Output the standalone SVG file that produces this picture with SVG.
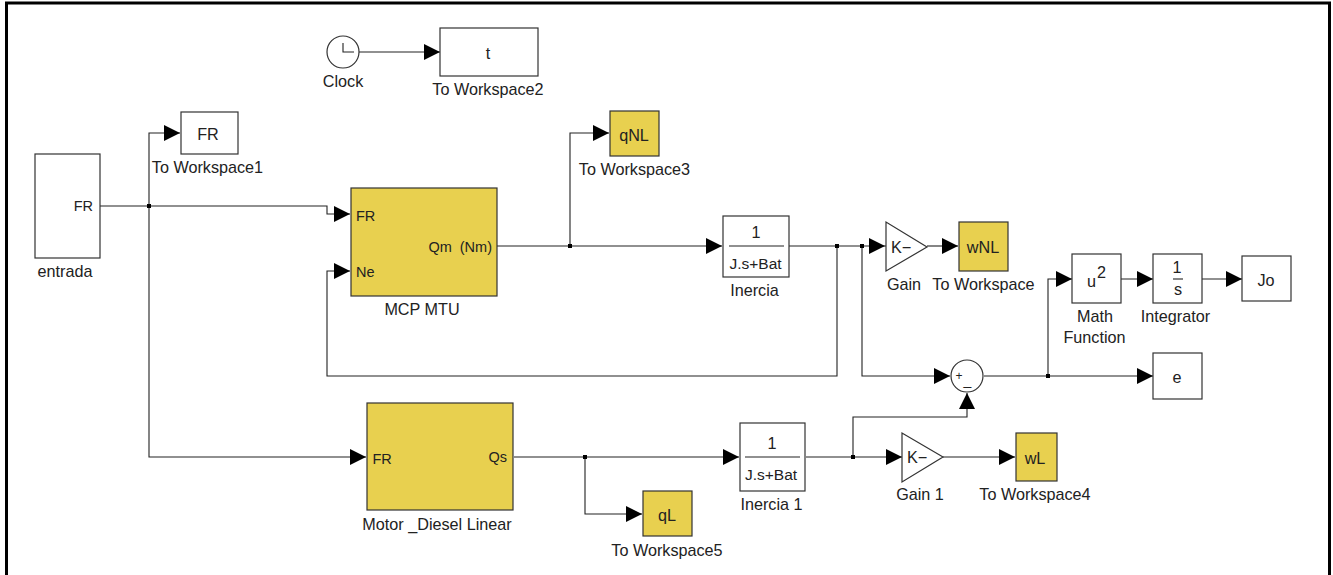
<svg xmlns="http://www.w3.org/2000/svg" width="1333" height="575" viewBox="0 0 1333 575">
<style>
.b{fill:#fff;stroke:#333;stroke-width:1.2}
.y{fill:#e8d04f;stroke:#333;stroke-width:1.2}
text{font-family:"Liberation Sans",Arial,sans-serif;font-size:16.2px;fill:#222;white-space:pre}
.p{font-size:14.5px}
.f{font-size:15.5px}
.m{text-anchor:middle}
.e{text-anchor:end}
.w{fill:none;stroke:#222;stroke-width:1.1}
.h{fill:#000;stroke:none}
.d{fill:#000}
</style>
<defs>
<polygon id="a" class="h" points="-16,-8 0,0 -16,8"/>
</defs>
<path d="M6.5 580V3H1329.5V580" fill="#fff" stroke="#000" stroke-width="3"/>
<g id="connectors">
<path class="w" d="M100 206H327V214H350"/>
<path class="w" d="M149 206V133H180M149 206V457H366"/>
<path class="w" d="M359 52H440"/>
<path class="w" d="M497 246H722M570 246V133H609"/>
<path class="w" d="M789 246H891M837 246V376H327V271H350"/>
<path class="w" d="M862 246V376H950"/>
<path class="w" d="M927 246H958"/>
<path class="w" d="M514 457H739M585 457V514H642"/>
<path class="w" d="M806 457H908M853 457V417H967V393"/>
<path class="w" d="M943 457H1015"/>
<path class="w" d="M984 376H1153M1048 376V279H1072"/>
<path class="w" d="M1121 279H1153M1202 279H1242"/>
<use href="#a" x="440" y="52"/><use href="#a" x="180" y="133"/><use href="#a" x="350" y="214"/><use href="#a" x="350" y="271"/>
<use href="#a" x="609" y="133"/><use href="#a" x="722" y="246"/><use href="#a" x="885" y="246"/><use href="#a" x="958" y="246"/>
<use href="#a" x="1072" y="279"/><use href="#a" x="1153" y="279"/><use href="#a" x="1242" y="279"/><use href="#a" x="950" y="376"/><use href="#a" x="1153" y="376"/>
<use href="#a" x="366" y="457"/><use href="#a" x="739" y="457"/><use href="#a" x="642" y="514"/><use href="#a" x="902" y="457"/><use href="#a" x="1015" y="457"/>
<polygon class="h" points="967,393 959,409 975,409"/>
<rect class="d" x="147" y="204" width="4" height="4"/><rect class="d" x="568" y="244" width="4" height="4"/><rect class="d" x="835" y="244" width="4" height="4"/><rect class="d" x="860" y="244" width="4" height="4"/><rect class="d" x="1046" y="374" width="4" height="4"/><rect class="d" x="851" y="455" width="4" height="4"/><rect class="d" x="583" y="455" width="4" height="4"/>
</g>
<g id="clock"><circle class="b" cx="343" cy="52" r="16"/><path class="w" d="M343 43V52H354"/><text class="m" x="343" y="87">Clock</text></g>
<g id="toworkspace2"><rect class="b" x="440" y="28" width="98" height="48"/><text class="m" x="488" y="59">t</text><text class="m" x="488" y="95">To Workspace2</text></g>
<g id="toworkspace1"><rect class="b" x="181" y="112" width="57" height="42"/><text class="m" x="208" y="140">FR</text><text class="m" x="207.500" y="173">To Workspace1</text></g>
<g id="entrada"><rect class="b" x="35" y="154" width="65" height="104"/><text class="e p" x="93" y="211">FR</text><text class="m" x="65" y="277">entrada</text></g>
<g id="mcp"><rect class="y" x="351" y="188" width="146" height="108"/><text class="p" x="356" y="221">FR</text><text class="p" x="356" y="277">Ne</text><text class="e p" x="492" y="252">Qm  (Nm)</text><text class="m" x="422" y="315">MCP MTU</text></g>
<g id="toworkspace3"><rect class="y" x="610" y="111" width="49" height="45"/><text class="m" x="634" y="141">qNL</text><text class="m" x="634.500" y="175">To Workspace3</text></g>
<g id="inercia"><rect class="b" x="723" y="216" width="66" height="61"/><text class="m" x="756" y="238">1</text><path class="w" d="M729 246H784"/><text class="m f" x="755.500" y="269">J.s+Bat</text><text class="m" x="754.500" y="296">Inercia</text></g>
<g id="gain"><polygon class="b" points="886,222 886,271 927,247"/><text x="891" y="253">K−</text><text class="m" x="904" y="290">Gain</text></g>
<g id="toworkspace"><rect class="y" x="959" y="222" width="49" height="49"/><text class="m" x="983" y="253">wNL</text><text class="m" x="983.500" y="290">To Workspace</text></g>
<g id="math"><rect class="b" x="1072" y="254" width="49" height="49"/><text x="1087" y="287">u</text><text x="1097" y="278">2</text><text class="m" x="1095" y="322">Math</text><text class="m" x="1094.500" y="343">Function</text></g>
<g id="integrator"><rect class="b" x="1153" y="254" width="49" height="49"/><text class="m" x="1177" y="273">1</text><path class="w" d="M1173 279H1183"/><text class="m" x="1178" y="295">s</text><text class="m" x="1175.500" y="322">Integrator</text></g>
<g id="jo"><rect class="b" x="1242" y="256" width="49" height="45"/><text class="m" x="1266" y="286">Jo</text></g>
<g id="sum"><circle class="b" cx="967" cy="376" r="16"/><text x="955.500" y="380" style="font-size:12px">+</text><text x="963.500" y="385" style="font-size:14px">_</text></g>
<g id="e"><rect class="b" x="1153" y="353" width="49" height="46"/><text class="m" x="1177" y="383">e</text></g>
<g id="diesel"><rect class="y" x="367" y="403" width="146" height="107"/><text class="p" x="372.500" y="464">FR</text><text class="e p" x="507" y="462">Qs</text><text class="m" x="437" y="530">Motor _Diesel Linear</text></g>
<g id="toworkspace5"><rect class="y" x="643" y="491" width="49" height="45"/><text class="m" x="667" y="521">qL</text><text class="m" x="667" y="556">To Workspace5</text></g>
<g id="inercia1"><rect class="b" x="740" y="423" width="65" height="68"/><text class="m" x="772" y="449">1</text><path class="w" d="M745 457H800"/><text class="m f" x="771" y="480">J.s+Bat</text><text class="m" x="771.500" y="510">Inercia 1</text></g>
<g id="gain1"><polygon class="b" points="902,433 902,482 943,457"/><text x="907" y="463">K−</text><text class="m" x="920" y="500">Gain 1</text></g>
<g id="toworkspace4"><rect class="y" x="1016" y="433" width="41" height="48"/><text class="m" x="1035" y="464">wL</text><text class="m" x="1035" y="500">To Workspace4</text></g>
</svg>
